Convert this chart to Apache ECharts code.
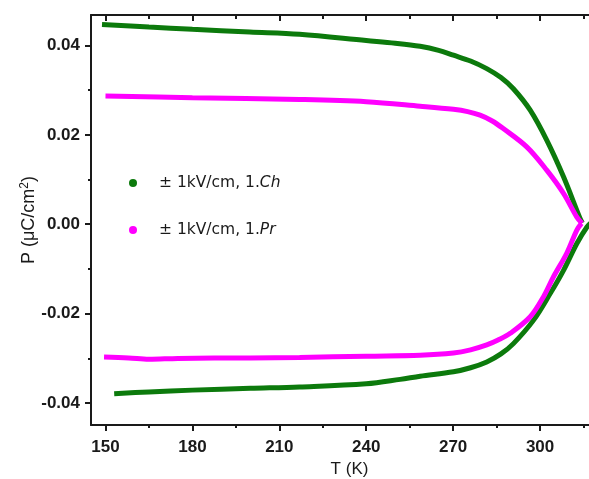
<!DOCTYPE html>
<html><head><meta charset="utf-8">
<script src="https://cdn.jsdelivr.net/npm/echarts@6/dist/echarts.min.js"></script>
<style>html,body{margin:0;padding:0;background:#fff}#c{width:589px;height:479px}</style>
</head><body><div id="c"></div>
<script>
// Data
const chTopT = [148.8, 165, 180, 199.8, 217, 240, 250, 258.6, 265, 270.1, 276, 281.6, 286.5, 290.8, 296.6, 302.3, 308.1, 313.8, 314.6];
const chTopP = [0.0447, 0.0441, 0.0436, 0.0430, 0.0425, 0.0411, 0.0405, 0.0398, 0.0389, 0.0378, 0.0365, 0.0348, 0.0328, 0.0303, 0.0255, 0.0188, 0.0106, 0.0013, 0.0003];
const chBotT = [153, 165, 180, 200, 217, 240, 251.7, 258.6, 270.1, 276, 281.6, 286.5, 290.8, 297.7, 303.5, 308.1, 312.7, 316.2, 317.8];
const chBotP = [-0.0379, -0.0375, -0.0371, -0.0367, -0.0364, -0.0357, -0.0347, -0.0340, -0.0330, -0.0321, -0.0308, -0.0290, -0.0267, -0.0215, -0.0155, -0.0103, -0.0043, -0.0006, 0.0004];
const prTopT = [150, 180, 217, 240, 258.6, 270.1, 275, 279.3, 283.5, 287.3, 295.4, 302.3, 308.1, 312.7, 314.5];
const prTopP = [0.0287, 0.0283, 0.0279, 0.0274, 0.0264, 0.0257, 0.0252, 0.0244, 0.0231, 0.0214, 0.0173, 0.0121, 0.0069, 0.0016, 0.0002];
const prBotT = [149.5, 158, 165, 175, 200, 217, 240, 258.6, 270.1, 276, 281.6, 285.5, 289.7, 296.6, 301.2, 304.6, 309.2, 312.7, 314.3];
const prBotP = [-0.0297, -0.0299, -0.0302, -0.0300, -0.0299, -0.0298, -0.0295, -0.0293, -0.0288, -0.0281, -0.0270, -0.0259, -0.0244, -0.0207, -0.0162, -0.0118, -0.0065, -0.0013, 0.0002];
const xMajor = [150, 180, 210, 240, 270, 300];
const xMinor = [165, 195, 225, 255, 285, 315];
const yMajor = [-0.04, -0.02, 0.00, 0.02, 0.04];
const yMinor = [-0.03, -0.01, 0.01, 0.03];
const legendCh = '± 1kV/cm, 1.';
const chName = 'Ch', prName = 'Pr';

const zip = (a, b) => a.map((v, i) => [v, b[i]]);
const GREEN = '#0c7a0c', MAG = '#ff00ff', INK = '#1a1a1a';
const X0 = 145, X1 = 320, Y0 = -0.0449, Y1 = 0.0468;
const axisLine = {show: true, onZero: false, lineStyle: {color: INK, width: 2}};
const noLine = {show: false, onZero: false};
const lbl = {fontFamily: 'Arial, Liberation Sans', fontWeight: 'bold', fontSize: 17, color: INK};
const lineStyleOf = c => ({color: c, width: 5});

const chart = echarts.init(document.getElementById('c'), null, {renderer: 'canvas'});
chart.setOption({
  animation: false,
  grid: {left: 91, right: -9, top: 15, bottom: 54, containLabel: false, outerBoundsMode: 'none'},
  legend: {
    orient: 'vertical', left: 124, top: 170, itemGap: 31,
    icon: 'circle', itemWidth: 8, itemHeight: 8,
    data: [chName, prName],
    formatter: n => '{a|' + legendCh + '}{b|' + n + '}',
    textStyle: {
      rich: {
        a: {fontFamily: 'DejaVu Sans', fontSize: 15.5, color: INK, padding: [0, 0, 0, 17]},
        b: {fontFamily: 'DejaVu Sans', fontSize: 15.5, color: INK, fontStyle: 'italic'}
      }
    }
  },
  xAxis: [
    {type: 'value', min: X0, max: X1, position: 'bottom', axisLine,
     splitLine: {show: false},
     axisTick: {show: true, customValues: xMajor, length: 6, lineStyle: {color: INK, width: 2}},
     axisLabel: {...lbl, customValues: xMajor, margin: 14},
     name: 'T (K)', nameLocation: 'middle', nameGap: 36,
     nameTextStyle: {fontFamily: 'Arial, Liberation Sans', fontSize: 17, color: INK, padding: [0, 0, 0, 10]}},
    {type: 'value', min: X0, max: X1, position: 'bottom', axisLine: noLine,
     splitLine: {show: false},
     axisTick: {show: true, customValues: xMinor, length: 3, lineStyle: {color: INK, width: 2}},
     axisLabel: {show: false}},
    {type: 'value', min: X0, max: X1, position: 'top', axisLine,
     splitLine: {show: false},
     axisTick: {show: true, inside: true, customValues: xMajor, length: 6, lineStyle: {color: INK, width: 2}},
     axisLabel: {show: false}},
    {type: 'value', min: X0, max: X1, position: 'top', axisLine: noLine,
     splitLine: {show: false},
     axisTick: {show: true, inside: true, customValues: xMinor, length: 4, lineStyle: {color: INK, width: 2}},
     axisLabel: {show: false}}
  ],
  yAxis: [
    {type: 'value', min: Y0, max: Y1, position: 'left', axisLine,
     splitLine: {show: false},
     axisTick: {show: true, customValues: yMajor, length: 6, lineStyle: {color: INK, width: 2}},
     axisLabel: {...lbl, customValues: yMajor, margin: 11, formatter: v => v.toFixed(2)},
     name: '{a|P (μC/cm}{s|2}{a|)}', nameLocation: 'middle', nameGap: 52, nameRotate: 90,
     nameMoveOverlap: false,
     nameTextStyle: {rich: {
       a: {fontFamily: 'Arial, Liberation Sans', fontSize: 18, color: INK, lineHeight: 20},
       s: {fontFamily: 'Arial, Liberation Sans', fontSize: 12, color: INK, verticalAlign: 'top', lineHeight: 20}
     }}},
    {type: 'value', min: Y0, max: Y1, position: 'left', axisLine: noLine,
     splitLine: {show: false},
     axisTick: {show: true, customValues: yMinor, length: 3, lineStyle: {color: INK, width: 2}},
     axisLabel: {show: false}}
  ],
  series: [
    {name: chName, type: 'line', data: zip(chTopT, chTopP), showSymbol: false, smooth: 0.35,
     itemStyle: {color: GREEN}, lineStyle: lineStyleOf(GREEN)},
    {name: chName, type: 'line', data: zip(chBotT, chBotP), showSymbol: false, smooth: 0.35,
     itemStyle: {color: GREEN}, lineStyle: lineStyleOf(GREEN)},
    {name: prName, type: 'line', data: zip(prTopT, prTopP), showSymbol: false, smooth: 0.35,
     itemStyle: {color: MAG}, lineStyle: lineStyleOf(MAG)},
    {name: prName, type: 'line', data: zip(prBotT, prBotP), showSymbol: false, smooth: 0.35,
     itemStyle: {color: MAG}, lineStyle: lineStyleOf(MAG)}
  ]
});
</script></body></html>
